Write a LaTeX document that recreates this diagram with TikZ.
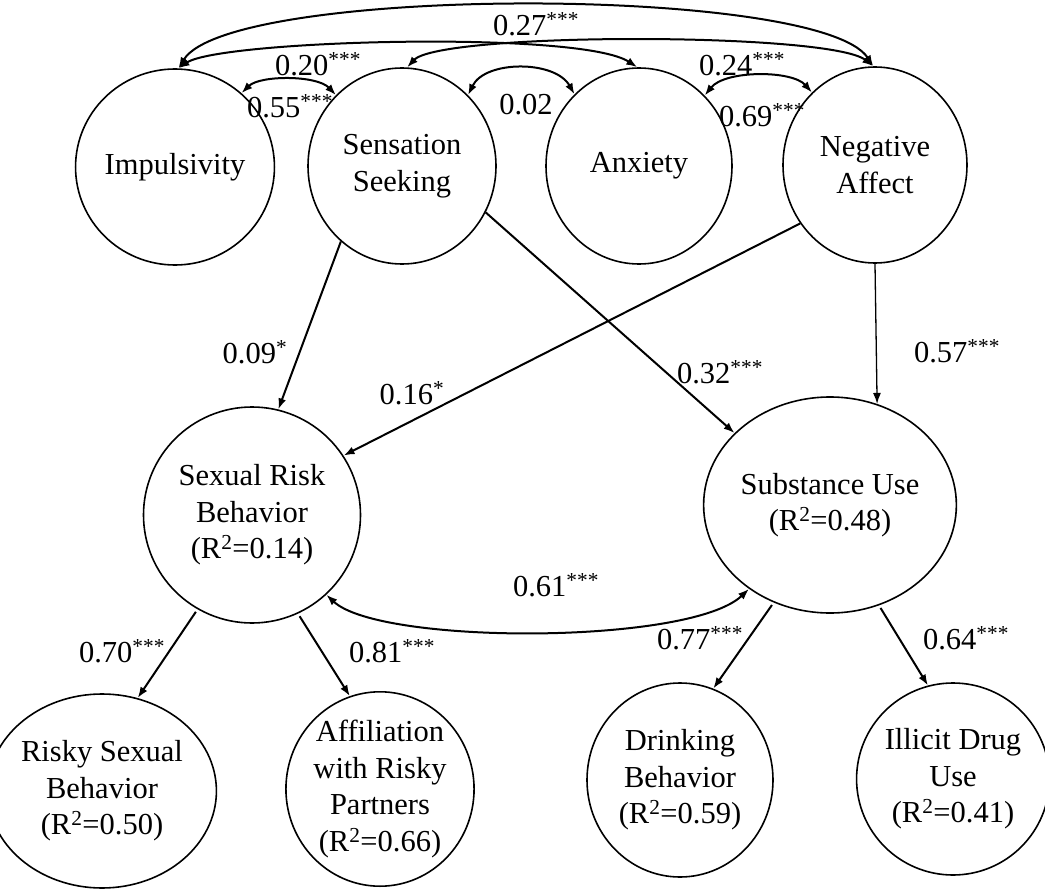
\documentclass[tikz,border=0pt]{standalone}
\usepackage{fontspec}
\setmainfont{Liberation Serif}
\usetikzlibrary{shapes.geometric,arrows.meta}
\begin{document}
\begin{tikzpicture}[x=1pt,y=-1pt,
  lv/.style={ellipse, draw, line width=1.6pt, inner sep=0pt, align=center,
    font=\fontsize{30.5}{36.5}\selectfont},
  lab/.style={inner sep=0pt, font=\fontsize{30.5}{36.5}\selectfont},
  arr/.style={line width=2pt, -{Latex[length=11pt,width=8pt]}},
  darr/.style={line width=2pt, {Latex[length=11pt,width=8pt]}-{Latex[length=11pt,width=8pt]}}]
\useasboundingbox (0,0) rectangle (1045,891);
% latent variables
\node[lv, minimum width=184pt, minimum height=196pt] (imp) at (175,167) {Impulsivity};
\node[lv, minimum width=188pt, minimum height=196pt] (ss) at (402,166) {Sensation\\Seeking};
\node[lv, minimum width=186pt, minimum height=196pt] (anx) at (639,166) {Anxiety};
\node[lv, minimum width=184pt, minimum height=196pt] (na) at (875,165) {Negative\\Affect};
\node[lv, minimum width=217pt, minimum height=216pt] (srb) at (252,515) {Sexual Risk\\Behavior\\(R\textsuperscript{2}=0.14)};
\node[lv, minimum width=215pt, minimum height=216pt] (su) at (830,505) {Substance Use\\(R\textsuperscript{2}=0.48)};
\node[lv, minimum width=188pt, minimum height=194pt] (rsb) at (102,791) {Risky Sexual\\Behavior\\(R\textsuperscript{2}=0.50)};
\node[lv, minimum width=188pt, minimum height=193pt] (aff) at (380,789) {Affiliation\\with Risky\\Partners\\(R\textsuperscript{2}=0.66)};
\node[lv, minimum width=186pt, minimum height=194pt] (drk) at (680,780) {Drinking\\Behavior\\(R\textsuperscript{2}=0.59)};
\node[lv, minimum width=182pt, minimum height=192pt] (ill) at (953,779) {Illicit Drug\\Use\\(R\textsuperscript{2}=0.41)};
% correlations among predictors
\draw[darr] (imp.88) .. controls (230,-15) and (820,-15) .. (na.91);
\draw[darr] (imp.88) .. controls (220,40) and (580,30) .. (anx.91);
\draw[darr] (ss.87) .. controls (440,32) and (830,32) .. (na.91);
\draw[darr] (imp.48) .. controls (260,75) and (317,75) .. (ss.133);
\draw[darr] (ss.47) .. controls (485,60) and (555,60) .. (anx.132);
\draw[darr] (anx.47) .. controls (725,70) and (792,70) .. (na.131);
% paths
\draw[arr] (ss.231) -- (srb.76);
\draw[arr] (na.218) -- (srb.33);
\draw[arr] (ss.331) -- (su.143);
\draw[arr, line width=1.3pt] (na.270) -- (su.65);
\draw[darr] (srb.313) .. controls (380,645) and (690,645) .. (su.226);
\draw[arr, shorten <=3pt] (srb.240) -- (rsb.69);
\draw[arr, shorten <=3pt] (srb.295) -- (aff.108);
\draw[arr, shorten <=3pt] (su.240) -- (drk.70);
\draw[arr, shorten <=3pt] (su.296) -- (ill.105);
% labels
\node[lab] (l27) at (536,24) {0.27\textsuperscript{***}};
\node[lab] (l20) at (318,64) {0.20\textsuperscript{***}};
\node[lab] (l55) at (290,106) {0.55\textsuperscript{***}};
\node[lab] (l02) at (526,105) {0.02};
\node[lab] (l24) at (742,64) {0.24\textsuperscript{***}};
\node[lab] (l69) at (762,115) {0.69\textsuperscript{***}};
\node[lab] (l09) at (255,352) {0.09\textsuperscript{*}};
\node[lab] (l16) at (412,393) {0.16\textsuperscript{*}};
\node[lab] (l32) at (720,372) {0.32\textsuperscript{***}};
\node[lab] (l57) at (957,351) {0.57\textsuperscript{***}};
\node[lab] (l61) at (556,585) {0.61\textsuperscript{***}};
\node[lab] (l70) at (122,651) {0.70\textsuperscript{***}};
\node[lab] (l81) at (392,651) {0.81\textsuperscript{***}};
\node[lab] (l77) at (700,638) {0.77\textsuperscript{***}};
\node[lab] (l64) at (966,638) {0.64\textsuperscript{***}};
\end{tikzpicture}
\end{document}
